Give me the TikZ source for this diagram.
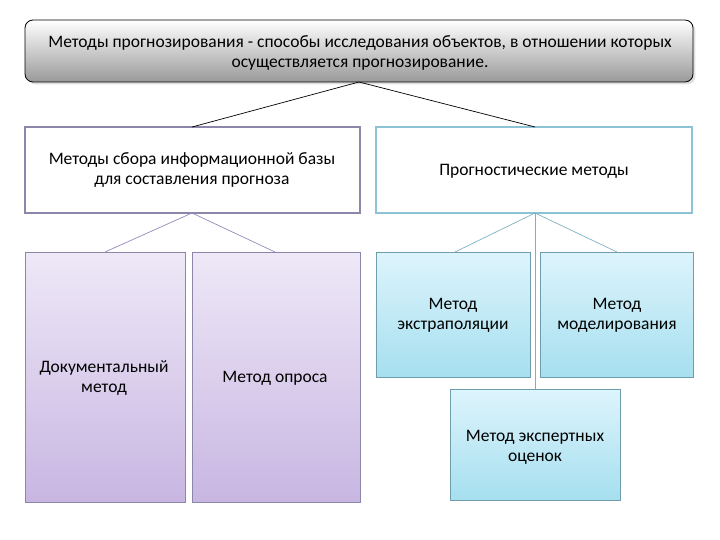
\documentclass[tikz,border=0pt]{standalone}
\usepackage{fontspec}
\setmainfont{Carlito}
\usetikzlibrary{shadows}
\definecolor{pborder}{HTML}{8C86A8}
\definecolor{bborder}{HTML}{8CC4D6}
\definecolor{ptop}{HTML}{EEE8F7}
\definecolor{pbot}{HTML}{C8B6E2}
\definecolor{btop}{HTML}{DDF4FC}
\definecolor{bbot}{HTML}{A6DFEF}
\definecolor{plink}{HTML}{9A86C0}
\definecolor{blink}{HTML}{7FB0C0}
\begin{document}
\begin{tikzpicture}[x=1pt,y=-1pt,
  txt/.style={font=\fontsize{17.5}{20}\selectfont, align=center, text=black, inner sep=0pt},
  topbox/.style={draw=black, line width=0.8pt, rounded corners=8pt, top color=white, bottom color=black!40, drop shadow={opacity=0.25}},
  pmid/.style={draw=pborder, line width=1.5pt, fill=white},
  bmid/.style={draw=bborder, line width=1.5pt, fill=white},
  pbox/.style={draw=pborder, line width=0.8pt, top color=ptop, bottom color=pbot},
  bbox/.style={draw=bborder!80!black, line width=0.8pt, top color=btop, bottom color=bbot},
  plinks/.style={draw=plink, line width=0.7pt},
  blinks/.style={draw=blink, line width=0.7pt}]
\useasboundingbox (0,0) rectangle (720,540);
% boxes
\path[topbox] (25,20) rectangle (693,82);
\node[txt] (top) at (360,53) {Методы прогнозирования - способы исследования объектов, в отношении которых\\осуществляется прогнозирование.};
\coordinate (topb) at (359,82);

\path[pmid] (25,127) rectangle (360,213);
\node[txt] (lm) at (192,170) {Методы сбора информационной базы\\для составления прогноза};
\coordinate (lmt) at (192,127);
\coordinate (lmb) at (192,213);

\path[bmid] (376,127) rectangle (692,213);
\node[txt] (rm) at (534,171) {Прогностические методы};
\coordinate (rmt) at (535,127);
\coordinate (rmb) at (535,213);

\path[pbox] (25,252) rectangle (185,502);
\node[txt] (doc) at (104,378) {Документальный\\метод};
\coordinate (doct) at (105,252);

\path[pbox] (192,252) rectangle (360,502);
\node[txt] (opr) at (275,378) {Метод опроса};
\coordinate (oprt) at (275,252);

\path[bbox] (376,252) rectangle (530,377);
\node[txt] (ext) at (453,315) {Метод\\экстраполяции};
\coordinate (extt) at (455,252);

\path[bbox] (540,252) rectangle (693,377);
\node[txt] (mod) at (617,315) {Метод\\моделирования};
\coordinate (modt) at (617,252);

\path[bbox] (450,389) rectangle (620,500);
\node[txt] (exp) at (535,447) {Метод экспертных\\оценок};
\coordinate (expt) at (535,389);

% connectors
\draw[line width=0.7pt] (topb) -- (lmt);
\draw[line width=0.7pt] (topb) -- (rmt);
\draw[plinks] (lmb) -- (doct);
\draw[plinks] (lmb) -- (oprt);
\draw[blinks] (rmb) -- (extt);
\draw[blinks] (rmb) -- (modt);
\draw[blinks] (rmb) -- (expt);
\end{tikzpicture}
\end{document}
